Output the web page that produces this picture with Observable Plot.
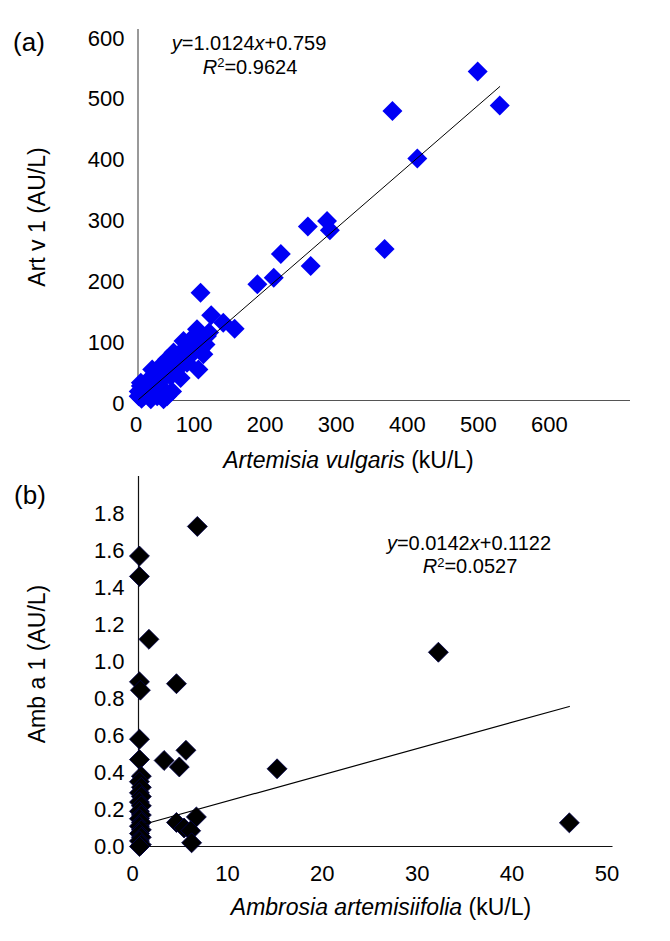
<!DOCTYPE html>
<html>
<head>
<meta charset="utf-8">
<script src="https://cdn.jsdelivr.net/npm/d3@7"></script>
<script src="https://cdn.jsdelivr.net/npm/@observablehq/plot@0.6"></script>
<style>
  html, body { margin: 0; padding: 0; background: #fff; }
  #chart { position: relative; width: 670px; height: 941px; background: #fff; }
  #chart svg { display: block; }
  text { font-family: "Liberation Sans", Arial, sans-serif; }
</style>
</head>
<body>
<div id="chart"><div id="pa"></div><div id="pb"></div></div>
<script>
// ---- Panel (a): Artemisia vulgaris (kU/L) vs Art v 1 (AU/L)
const artemisiaX = [478, 509, 358, 393, 347, 239, 266, 270, 243, 201, 191, 168, 88, 103, 120, 136, 85,
  83, 74, 88, 64, 55, 46, 39, 29, 22, 13, 4, 1, 8, 36, 27, 36, 60, 55, 69, 78, 88, 97, 83, 64, 50, 41, 32, 20, 4, 46, 25, 18, 1, 41, 48, 18, 64, 95, 92, 100, 10, 5, 30, 15];
const artv1Y = [541, 485, 476, 398, 249, 286, 295, 280, 221, 241, 202, 191, 177, 140, 128, 118, 51,
  117, 100, 84, 84, 73, 62, 54, 46, 40, 32, 24, 7, 7, 2, 7, 18, 37, 51, 62, 79, 95, 106, 106, 98, 79, 68, 57, 51, 29, 40, 24, 13, 15, 7, 15, 2, 68, 92, 76, 112, 18, 3, 30, 20];
const xTicksA = [0, 100, 200, 300, 400, 500, 600];
const yTicksA = [0, 100, 200, 300, 400, 500, 600];
const slopeA = 1.0124, interceptA = 0.759;

// ---- Panel (b): Ambrosia artemisiifolia (kU/L) vs Amb a 1 (AU/L)
const ambrosiaX = [6.2, 1.1, 4.0, 2.7, 5.0, 4.3, 14.6, 31.6, 45.4, 4.0, 4.8, 6.1, 5.5, 5.6,
  0.1, 0.1, 0.1, 0.2, 0.1, 0.1, 0.3, 0.1, 0.3, 0.1, 0.3, 0.1, 0.3, 0.1, 0.3, 0.1, 0.3, 0.1, 0.3, 0.1, 0.3, 0.1, 0.3, 0.1];
const amba1Y = [1.73, 1.12, 0.88, 0.465, 0.52, 0.43, 0.42, 1.05, 0.128, 0.13, 0.10, 0.16, 0.085, 0.02,
  1.57, 1.46, 0.89, 0.845, 0.58, 0.47, 0.38, 0.35, 0.32, 0.29, 0.27, 0.24, 0.22, 0.19, 0.17, 0.15, 0.13, 0.11, 0.09, 0.07, 0.05, 0.03, 0.01, 0.0];
const xTicksB = [0, 10, 20, 30, 40, 50];
const yTicksB = [0, 0.2, 0.4, 0.6, 0.8, 1.0, 1.2, 1.4, 1.6, 1.8];
const slopeB = 0.0142, interceptB = 0.1122;

const FONT = '"Liberation Sans", Arial, sans-serif';

const dataA = artemisiaX.map((x, i) => ({x, y: artv1Y[i]}));
const fitA = d3.extent(artemisiaX).map(x => ({x, y: slopeA * x + interceptA}));
const dataB = ambrosiaX.map((x, i) => ({x, y: amba1Y[i]}));
const fitB = d3.extent(ambrosiaX).map(x => ({x, y: slopeB * x + interceptB}));

const plotA = Plot.plot({
  width: 670, height: 476,
  marginLeft: 137.5, marginRight: 40, marginTop: 29, marginBottom: 76,
  style: {fontFamily: FONT, fontSize: "22px", color: "#000", background: "#fff", overflow: "visible"},
  x: {domain: [0, 693]},
  y: {domain: [0, 610]},
  marks: [
    Plot.axisY(yTicksA, {tickSize: 0, tickPadding: 13.5, dy: 3, label: null, fontSize: 22}),
    Plot.axisX([0], {tickSize: 0, tickPadding: 16, dx: -2, label: null, fontSize: 22}),
    Plot.axisX(xTicksA.filter(d => d > 0), {tickSize: 0, tickPadding: 16, dx: -15, label: null, fontSize: 22}),
    Plot.ruleX([0], {stroke: "#555", strokeWidth: 1.2}),
    Plot.ruleY([0], {stroke: "#555", strokeWidth: 1.2}),
    Plot.dot(dataA, {x: "x", y: "y", symbol: "diamond2", r: 9, fill: "#0000f5", stroke: "none"}),
    Plot.line(fitA, {x: "x", y: "y", stroke: "#000", strokeWidth: 1})
  ]
});

const plotB = Plot.plot({
  width: 670, height: 465,
  marginLeft: 138, marginRight: 57.5, marginTop: 0, marginBottom: 95,
  style: {fontFamily: FONT, fontSize: "22px", color: "#000", background: "#fff", overflow: "visible"},
  x: {domain: [0, 50]},
  y: {domain: [0, 2]},
  marks: [
    Plot.axisY(yTicksB, {tickSize: 0, tickPadding: 14, tickFormat: d3.format(".1f"), label: null, fontSize: 22}),
    Plot.axisX(xTicksB, {tickSize: 0, tickPadding: 19, dx: -6, label: null, fontSize: 22}),
    Plot.ruleX([0], {stroke: "#111", strokeWidth: 1.2}),
    Plot.ruleY([0], {stroke: "#111", strokeWidth: 1.2}),
    Plot.dot(dataB, {x: "x", y: "y", symbol: "diamond2", r: 9, fill: "#000", stroke: "#00004d", strokeWidth: 0.8}),
    Plot.line(fitB, {x: "x", y: "y", stroke: "#000", strokeWidth: 1.2})
  ]
});

document.getElementById("pa").appendChild(plotA);
document.getElementById("pb").appendChild(plotB);

function addText(svg, x, y, parts, opts = {}) {
  const size = opts.size || 22;
  const t = d3.select(svg).append("text")
    .attr("font-family", FONT)
    .attr("font-size", size)
    .attr("fill", "#000")
    .attr("text-anchor", opts.anchor || "middle");
  if (opts.rotate) t.attr("transform", `translate(${x},${y}) rotate(${opts.rotate})`);
  else t.attr("x", x).attr("y", y);
  for (const p of parts) {
    const [str, style] = Array.isArray(p) ? p : [p, ""];
    const s = t.append("tspan").text(str);
    if (style.includes("i")) s.attr("font-style", "italic");
    if (style.includes("sup")) s.attr("font-size", 13).attr("dy", -6.5);
    if (style.includes("after")) s.attr("dy", 6.5);
  }
  return t;
}

// Panel (a) texts
addText(plotA, 29, 51, ["(a)"], {size: 26});
addText(plotA, 45, 217, ["Art v 1 (AU/L)"], {size: 23, rotate: -90});
addText(plotA, 348.5, 468, [["Artemisia vulgaris", "i"], " (kU/L)"], {size: 23});
addText(plotA, 249, 50, [["y", "i"], "=1.0124", ["x", "i"], "+0.759"], {size: 20});
addText(plotA, 250, 73.5, [["R", "i"], ["2", "sup"], ["=0.9624", "after"]], {size: 20});

// Panel (b) texts (panel starts at page y = 476)
addText(plotB, 30, 28, ["(b)"], {size: 26});
addText(plotB, 45, 188, ["Amb a 1 (AU/L)"], {size: 23, rotate: -90});
addText(plotB, 381, 439, [["Ambrosia artemisiifolia", "i"], " (kU/L)"], {size: 23});
addText(plotB, 469, 73.5, [["y", "i"], "=0.0142", ["x", "i"], "+0.1122"], {size: 20});
addText(plotB, 470, 97, [["R", "i"], ["2", "sup"], ["=0.0527", "after"]], {size: 20});
</script>
</body>
</html>
